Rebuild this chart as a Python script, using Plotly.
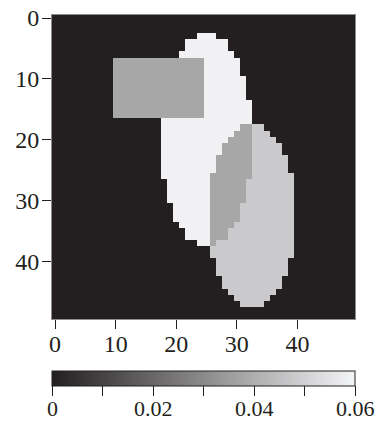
import plotly.graph_objects as go

# Grid size (phantom image, 50 x 50 cells)
n_cols = 50
n_rows = 50

# Intensity values (read from the grey levels vs. the colour bar)
background_value = 0.0
light_ellipse_value = 0.059
lower_ellipse_value = 0.048
overlap_value = 0.038
rect_value = 0.038

# Light (upper) ellipse: per-row first/last column
light_rows = [3, 4, 5, 6, 7, 8, 9, 10, 11, 12, 13, 14, 15, 16, 17, 18, 19, 20, 21, 22,
              23, 24, 25, 26, 27, 28, 29, 30, 31, 32, 33, 34, 35, 36, 37]
light_left = [24, 22, 22, 21, 20, 20, 20, 19, 19, 19, 19, 18, 18, 18, 18, 18, 18, 18, 18, 18,
              18, 18, 18, 18, 19, 19, 19, 19, 20, 20, 20, 21, 22, 22, 24]
light_right = [26, 28, 28, 29, 30, 30, 30, 31, 31, 31, 31, 32, 32, 32, 32, 32, 32, 32, 32, 32,
               32, 32, 32, 32, 31, 31, 31, 31, 30, 30, 30, 29, 28, 28, 26]

# Lower ellipse: per-row first/last column
lower_rows = [18, 19, 20, 21, 22, 23, 24, 25, 26, 27, 28, 29, 30, 31, 32, 33, 34, 35, 36, 37,
              38, 39, 40, 41, 42, 43, 44, 45, 46, 47]
lower_left = [31, 30, 29, 28, 28, 27, 27, 27, 26, 26, 26, 26, 26, 26, 26, 26, 26, 26, 26, 26,
              26, 26, 27, 27, 27, 28, 28, 29, 30, 31]
lower_right = [34, 35, 36, 37, 37, 38, 38, 38, 39, 39, 39, 39, 39, 39, 39, 39, 39, 39, 39, 39,
               39, 39, 38, 38, 38, 37, 37, 36, 35, 34]

# Rectangle: rows and columns (inclusive)
rect_row_range = [7, 16]
rect_col_range = [10, 24]

# Axis ticks / colour bar ticks
axis_ticks = [0, 10, 20, 30, 40]
cbar_min = 0.0
cbar_max = 0.06
cbar_tickvals = [0, 0.01, 0.02, 0.03, 0.04, 0.05, 0.06]
cbar_labelvals = [0, 0.02, 0.04, 0.06]
cbar_labeltext = ["0", "0.02", "0.04", "0.06"]

# ---- build the image from the shape tables ----
z = [[background_value for _ in range(n_cols)] for _ in range(n_rows)]
for r, a, b in zip(light_rows, light_left, light_right):
    for c in range(a, b + 1):
        z[r][c] = light_ellipse_value
for r, a, b in zip(lower_rows, lower_left, lower_right):
    for c in range(a, b + 1):
        z[r][c] = overlap_value if z[r][c] == light_ellipse_value else lower_ellipse_value
for r in range(rect_row_range[0], rect_row_range[1] + 1):
    for c in range(rect_col_range[0], rect_col_range[1] + 1):
        z[r][c] = rect_value

ink = "#231f20"
font_family = "Liberation Serif"
font_size = 24
cbar_font_size = 22

fig = go.Figure(
    go.Heatmap(
        z=z,
        x=list(range(n_cols)),
        y=list(range(n_rows)),
        zmin=cbar_min,
        zmax=cbar_max,
        colorscale=[[0, "#231f20"], [1, "#f4f5f7"]],
        hoverinfo="skip",
        colorbar=dict(
            orientation="h",
            x=0.5,
            xanchor="center",
            y=-0.171,
            yanchor="top",
            len=1.0,
            lenmode="fraction",
            thickness=15,
            xpad=0,
            ypad=0,
            outlinewidth=1,
            outlinecolor=ink,
            tickmode="array",
            tickvals=cbar_tickvals,
            showticklabels=False,
            ticks="outside",
            ticklen=10,
            tickcolor=ink,
        ),
    )
)

# colour-bar labels as real text, placed under the colour-bar ticks
for v, t in zip(cbar_labelvals, cbar_labeltext):
    fig.add_annotation(
        x=(v - cbar_min) / (cbar_max - cbar_min),
        xref="paper",
        y=-0.25,
        yref="paper",
        xanchor="center",
        yanchor="top",
        text=t,
        showarrow=False,
        font=dict(family=font_family, size=cbar_font_size, color=ink),
        borderpad=0,
    )

axis_common = dict(
    tickmode="array",
    tickvals=axis_ticks,
    ticks="outside",
    ticklen=9,
    tickcolor=ink,
    showline=True,
    mirror=True,
    linecolor="#8c8c8c",
    linewidth=1,
    showgrid=False,
    zeroline=False,
    tickfont=dict(family=font_family, size=font_size, color=ink),
)

fig.update_layout(
    width=378,
    height=421,
    margin=dict(l=52, r=23, t=15, b=102, autoexpand=False),
    paper_bgcolor="white",
    plot_bgcolor="white",
    font=dict(family=font_family, size=font_size, color=ink),
    xaxis=dict(range=[-0.5, 49.5], ticklabelstandoff=-6, **axis_common),
    yaxis=dict(range=[49.5, -0.5], ticklabelstandoff=-2, **axis_common),
)

fig.write_html("out.html")
